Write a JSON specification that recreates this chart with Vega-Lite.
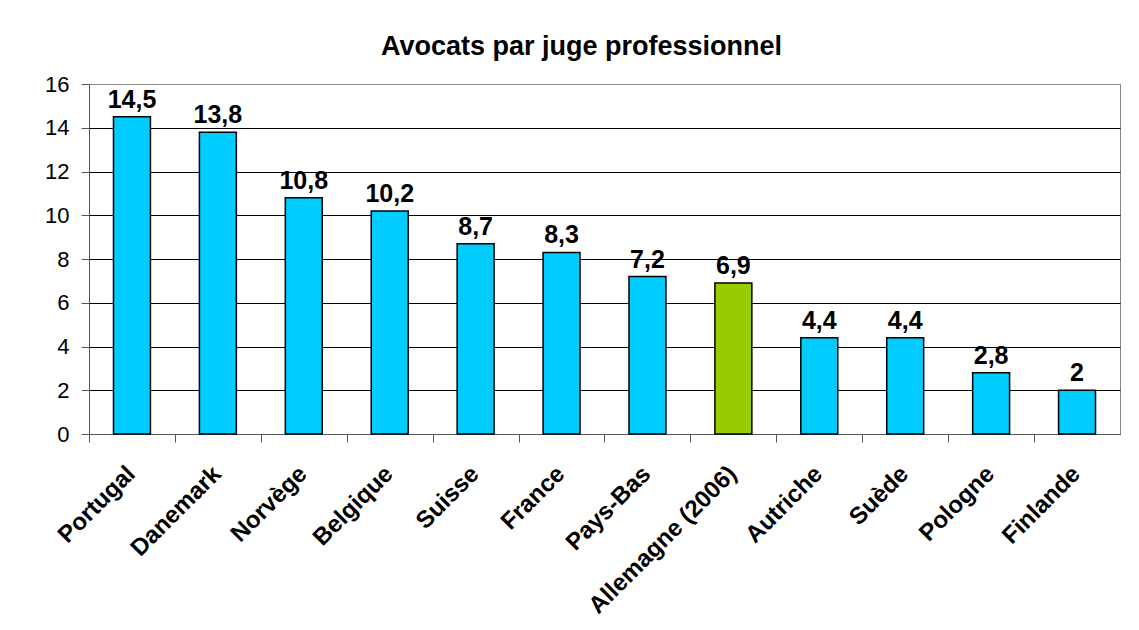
{
  "$schema": "https://vega.github.io/schema/vega-lite/v6.json",
  "width": 1031,
  "height": 350,
  "autosize": {"type": "none"},
  "padding": {"left": 89, "top": 84, "right": 19, "bottom": 196},
  "background": "white",
  "title": {
    "text": "Avocats par juge professionnel",
    "font": "Liberation Sans",
    "fontSize": 27,
    "fontWeight": "bold",
    "color": "#000000",
    "anchor": "middle",
    "dx": -23,
    "dy": 36,
    "baseline": "alphabetic",
    "offset": 27
  },
  "config": {
    "locale": {"number": {"decimal": ",", "thousands": " ", "grouping": [3], "currency": ["", " €"]}},
    "view": {"stroke": "#888888", "strokeWidth": 1},
    "font": "Liberation Sans"
  },
  "data": {
    "values": [
      {"pays": "Portugal", "valeur": 14.5, "groupe": "autre"},
      {"pays": "Danemark", "valeur": 13.8, "groupe": "autre"},
      {"pays": "Norvège", "valeur": 10.8, "groupe": "autre"},
      {"pays": "Belgique", "valeur": 10.2, "groupe": "autre"},
      {"pays": "Suisse", "valeur": 8.7, "groupe": "autre"},
      {"pays": "France", "valeur": 8.3, "groupe": "autre"},
      {"pays": "Pays-Bas", "valeur": 7.2, "groupe": "autre"},
      {"pays": "Allemagne (2006)", "valeur": 6.9, "groupe": "allemagne"},
      {"pays": "Autriche", "valeur": 4.4, "groupe": "autre"},
      {"pays": "Suède", "valeur": 4.4, "groupe": "autre"},
      {"pays": "Pologne", "valeur": 2.8, "groupe": "autre"},
      {"pays": "Finlande", "valeur": 2, "groupe": "autre"}
    ]
  },
  "encoding": {
    "x": {
      "field": "pays",
      "type": "nominal",
      "sort": null,
      "scale": {"paddingInner": 0.57, "paddingOuter": 0.285},
      "axis": {
        "title": null,
        "labelAngle": -45,
        "labelAlign": "right",
        "labelBaseline": "middle",
        "labelFont": "Liberation Sans",
        "labelFontSize": 24,
        "labelFontWeight": "bold",
        "labelColor": "#000000",
        "labelPadding": 28,
        "tickOffset": -42.96,
        "labelOffset": 42,
        "tickSize": 8,
        "tickColor": "#555555",
        "domainColor": "#555555",
        "grid": false,
        "labelOverlap": false,
        "labelLimit": 400
      }
    },
    "y": {
      "field": "valeur",
      "type": "quantitative",
      "scale": {"domain": [0, 16], "nice": false},
      "axis": {
        "title": null,
        "values": [0, 2, 4, 6, 8, 10, 12, 14, 16],
        "labelFont": "Liberation Sans",
        "labelFontSize": 22,
        "labelColor": "#000000",
        "labelPadding": 12,
        "tickSize": 8,
        "tickColor": "#555555",
        "domainColor": "#555555",
        "grid": true,
        "gridColor": {"condition": {"test": "datum.value == 16", "value": "#888888"}, "value": "#000000"},
        "gridWidth": 1
      }
    }
  },
  "layer": [
    {
      "mark": {"type": "bar", "stroke": "#000000", "strokeWidth": 1.5},
      "encoding": {
        "color": {
          "field": "groupe",
          "type": "nominal",
          "scale": {"domain": ["autre", "allemagne"], "range": ["#00CCFF", "#99CC00"]},
          "legend": null
        }
      }
    },
    {
      "mark": {"type": "text", "font": "Liberation Sans", "fontSize": 25, "fontWeight": "bold", "color": "#000000", "baseline": "alphabetic", "dy": -9},
      "encoding": {
        "text": {"field": "valeur", "type": "quantitative", "format": "~g"}
      }
    }
  ]
}
